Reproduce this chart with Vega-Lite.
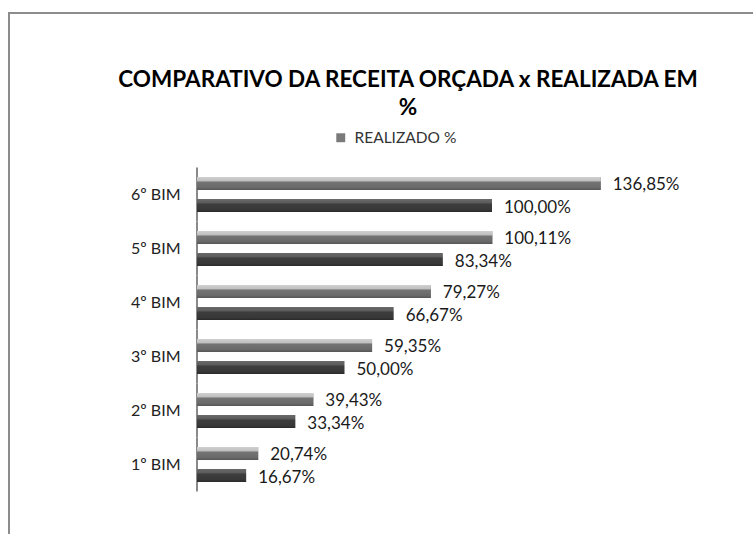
{
  "$schema": "https://vega.github.io/schema/vega-lite/v6.json",
  "width": 760,
  "height": 540,
  "autosize": {"type": "none"},
  "padding": {"left": 9, "top": 13, "right": 0, "bottom": 0},
  "background": "white",
  "config": {
    "view": {"stroke": "#8c8c8c", "strokeWidth": 2},
    "font": "Lato"
  },
  "title": {
    "text": ["COMPARATIVO DA RECEITA ORÇADA x REALIZADA EM", "%"],
    "font": "Lato",
    "fontSize": 22.5,
    "fontWeight": "bold",
    "color": "#000000",
    "anchor": "middle",
    "dx": 19,
    "offset": -106,
    "lineHeight": 28
  },
  "data": {
    "values": [
      {"bimestre": "1º BIM", "serie": "REALIZADO %", "valor": 20.74, "rotulo": "20,74%"},
      {"bimestre": "2º BIM", "serie": "REALIZADO %", "valor": 39.43, "rotulo": "39,43%"},
      {"bimestre": "3º BIM", "serie": "REALIZADO %", "valor": 59.35, "rotulo": "59,35%"},
      {"bimestre": "4º BIM", "serie": "REALIZADO %", "valor": 79.27, "rotulo": "79,27%"},
      {"bimestre": "5º BIM", "serie": "REALIZADO %", "valor": 100.11, "rotulo": "100,11%"},
      {"bimestre": "6º BIM", "serie": "REALIZADO %", "valor": 136.85, "rotulo": "136,85%"},
      {"bimestre": "1º BIM", "serie": "ORÇADO %", "valor": 16.67, "rotulo": "16,67%"},
      {"bimestre": "2º BIM", "serie": "ORÇADO %", "valor": 33.34, "rotulo": "33,34%"},
      {"bimestre": "3º BIM", "serie": "ORÇADO %", "valor": 50.00, "rotulo": "50,00%"},
      {"bimestre": "4º BIM", "serie": "ORÇADO %", "valor": 66.67, "rotulo": "66,67%"},
      {"bimestre": "5º BIM", "serie": "ORÇADO %", "valor": 83.34, "rotulo": "83,34%"},
      {"bimestre": "6º BIM", "serie": "ORÇADO %", "valor": 100.00, "rotulo": "100,00%"}
    ]
  },
  "encoding": {
    "y": {
      "field": "bimestre",
      "type": "nominal",
      "sort": ["6º BIM", "5º BIM", "4º BIM", "3º BIM", "2º BIM", "1º BIM"],
      "scale": {"range": [154.5, 478.5], "paddingInner": 0, "paddingOuter": 0},
      "axis": {
        "title": null,
        "domain": false,
        "ticks": false,
        "labelPadding": 0,
        "offset": -171,
        "labelFontSize": 16,
        "labelColor": "#222222",
        "labelFont": "Lato"
      }
    }
  },
  "layer": [
    {
      "transform": [{"filter": "datum.serie === 'REALIZADO %'"}],
      "mark": {"type": "bar", "fill": null, "stroke": "#8a8a8a", "strokeWidth": 2},
      "encoding": {
        "x": {"datum": 0, "type": "quantitative", "scale": {"domain": [-63.73, 193.9], "nice": false, "zero": false}, "axis": null},
        "x2": {"datum": 0}
      }
    },
    {
      "transform": [{"filter": "datum.serie === 'REALIZADO %'"}],
      "mark": {"type": "bar"},
      "encoding": {
        "x": {"field": "valor", "type": "quantitative"},
        "x2": {"datum": 0},
        "yOffset": {"field": "serie", "type": "nominal", "scale": {"domain": ["REALIZADO %", "ORÇADO %"], "paddingInner": 0.41, "paddingOuter": 0.432}},
        "color": {
          "field": "serie",
          "type": "nominal",
          "scale": {"domain": ["REALIZADO %"], "range": ["#7a7a7a"]},
          "legend": {
            "title": null,
            "orient": "none",
            "legendX": 324,
            "legendY": 117,
            "symbolType": "square",
            "symbolSize": 80,
            "symbolStrokeWidth": 0,
            "labelFontSize": 15.5,
            "labelColor": "#333333",
            "labelFont": "Lato",
            "labelOffset": 6
          }
        }
      }
    },
    {
      "transform": [{"filter": "datum.serie === 'REALIZADO %'"}],
      "mark": {
        "type": "bar",
        "color": {
          "gradient": "linear", "x1": 0, "y1": 0, "x2": 0, "y2": 1,
          "stops": [
            {"offset": 0, "color": "#d0d0d0"},
            {"offset": 0.33, "color": "#bdbdbd"},
            {"offset": 0.36, "color": "#747474"},
            {"offset": 0.8, "color": "#6a6a6a"},
            {"offset": 1, "color": "#555555"}
          ]
        }
      },
      "encoding": {
        "x": {"field": "valor", "type": "quantitative"},
        "x2": {"datum": 0},
        "yOffset": {"field": "serie", "type": "nominal"}
      }
    },
    {
      "transform": [{"filter": "datum.serie === 'ORÇADO %'"}],
      "mark": {
        "type": "bar",
        "color": {
          "gradient": "linear", "x1": 0, "y1": 0, "x2": 0, "y2": 1,
          "stops": [
            {"offset": 0, "color": "#6a6a6a"},
            {"offset": 0.33, "color": "#5a5a5a"},
            {"offset": 0.36, "color": "#3e3e3e"},
            {"offset": 0.8, "color": "#383838"},
            {"offset": 1, "color": "#2a2a2a"}
          ]
        }
      },
      "encoding": {
        "x": {"field": "valor", "type": "quantitative"},
        "x2": {"datum": 0},
        "yOffset": {"field": "serie", "type": "nominal"}
      }
    },
    {
      "mark": {"type": "text", "align": "left", "baseline": "middle", "dx": 12, "dy": 2, "fontSize": 17, "color": "#1a1a1a", "font": "Lato"},
      "encoding": {
        "x": {"field": "valor", "type": "quantitative"},
        "yOffset": {"field": "serie", "type": "nominal"},
        "text": {"field": "rotulo", "type": "nominal"}
      }
    }
  ]
}
